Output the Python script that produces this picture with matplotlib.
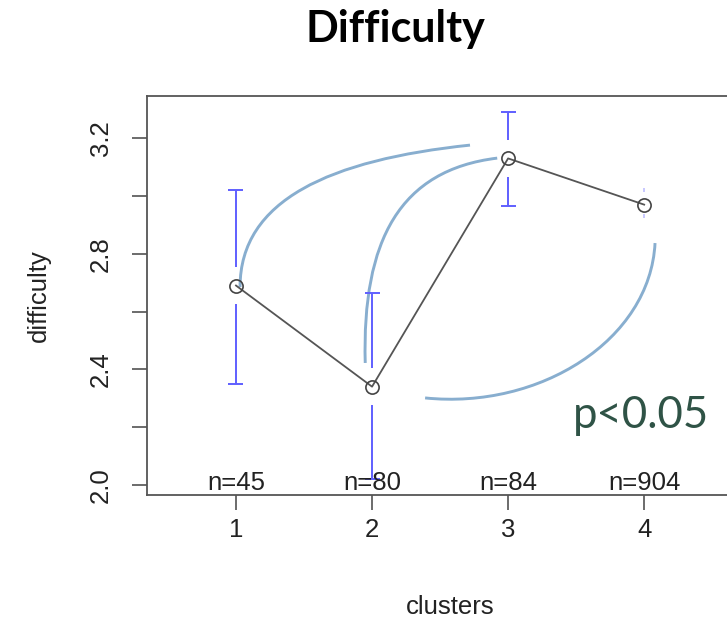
import numpy as np
import matplotlib.pyplot as plt
from matplotlib.path import Path
from matplotlib.patches import PathPatch

# cluster means with confidence intervals
clusters = [1, 2, 3, 4]
means = [2.69, 2.34, 3.13, 2.97]
ci_low = [2.35, 2.02, 2.965, 2.93]
ci_high = [3.02, 2.665, 3.29, 3.02]
n_obs = [45, 80, 84, 904]
yticks = [2.0, 2.2, 2.4, 2.6, 2.8, 3.0, 3.2]
ytick_labels = ['2.0', '', '2.4', '', '2.8', '', '3.2']

# hand-drawn highlight curves (bezier control points, data units)
arc_a = [(1.03, 2.685), (1.03, 2.986), (1.69, 3.125), (2.72, 3.176)]
arc_b = [(1.95, 2.422), (1.926, 2.848), (2.206, 3.09), (2.92, 3.131)]
arc_c = [(4.08, 2.837), (4.044, 2.502), (3.235, 2.26), (2.39, 2.301)]

plt.rcParams['font.family'] = ['Liberation Sans', 'DejaVu Sans']
fig = plt.figure(figsize=(7.27, 6.21), dpi=100)
ax = fig.add_axes([147 / 727, 126 / 621, (753 - 147) / 727, 399 / 621])

gap = 0.063
cap = 0.055
ci_col = '#5f5fff'
for x, m, lo, hi in zip(clusters, means, ci_low, ci_high):
    for end, sgn in ((hi, 1), (lo, -1)):
        if abs(end - m) > gap:
            ax.vlines(x, m + sgn * gap, end, color=ci_col, lw=1.4)
            ax.hlines(end, x - cap, x + cap, color=ci_col, lw=1.4)
        else:
            ax.vlines(x, end - 0.006, end + 0.006, color=ci_col, lw=1.2, alpha=0.4)

ax.plot(clusters, means, color='#555555', lw=1.3, marker='o', ms=9.5,
        mfc='none', mec='#444444', mew=1.2)

for x, n in zip(clusters, n_obs):
    ax.text(x, 1.983, 'n=%d' % n, ha='center', va='baseline', fontsize=18.5, color='#222222')

for pts in (arc_a, arc_b, arc_c):
    path = Path(pts, [Path.MOVETO, Path.CURVE4, Path.CURVE4, Path.CURVE4])
    ax.add_patch(PathPatch(path, fc='none', ec='#88aecf', lw=2.1))

ax.set_xlim(0.346, 4.8)
ax.set_ylim(1.965, 3.346)
ax.set_xticks(clusters)
ax.set_yticks(yticks)
ax.set_yticklabels(ytick_labels, rotation=90, va='center')
ax.tick_params(axis='both', length=10.8, width=1.1, color='#444444', labelsize=18.5, labelcolor='#222222')
ax.tick_params(axis='x', pad=6)
ax.tick_params(axis='y', pad=14)
for s in ax.spines.values():
    s.set_color('#555555')
    s.set_linewidth(1.3)

ax.set_xlabel('clusters', fontsize=18.5, color='#222222', labelpad=38)
ax.set_ylabel('difficulty', fontsize=18.5, color='#222222', labelpad=27)

fig.text(395 / 727, 1 - 42 / 621, 'Difficulty', ha='center', va='baseline',
         fontsize=31, fontweight='bold', family=['Lato', 'DejaVu Sans'])
fig.text(573 / 727, 1 - 428 / 621, 'p<0.05', ha='left', va='baseline',
         fontsize=31.5, color='#2f5346', family=['Lato', 'DejaVu Sans'])

fig.savefig('out.png', dpi=100)
